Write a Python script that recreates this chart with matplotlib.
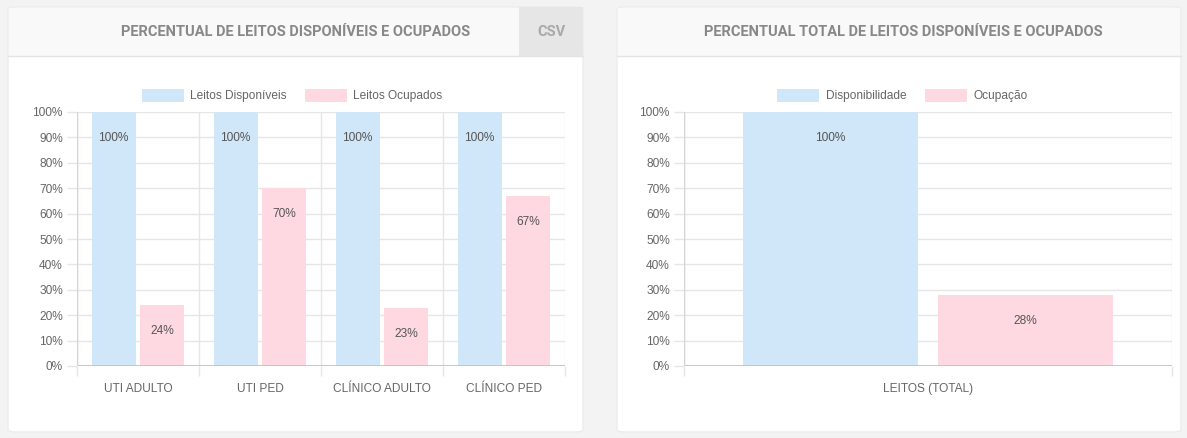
import matplotlib.pyplot as plt
from matplotlib.patches import FancyBboxPatch, Rectangle
from matplotlib.lines import Line2D

W, H = 1187, 438

# data
cats_left = ["UTI ADULTO", "UTI PED", "CLÍNICO ADULTO", "CLÍNICO PED"]
disponiveis = [100, 100, 100, 100]
ocupados = [24, 70, 23, 67]
cats_right = ["LEITOS (TOTAL)"]
disponibilidade = [100]
ocupacao = [28]

blue = "#d0e7f9"
pink = "#ffd9e1"
grid = "#e6e6e6"
tick_col = "#666666"

plt.rcParams['font.family'] = ['Liberation Sans', 'DejaVu Sans']

fig = plt.figure(figsize=(W / 100, H / 100), dpi=100)
fig.patch.set_facecolor("#f3f3f3")


def fx(x):
    return x / W


def fy(y):
    return 1 - y / H


def card(x0, x1, y0, y1, title, csv=False):
    # card body
    fig.patches.append(FancyBboxPatch((fx(x0), fy(y1)), fx(x1 - x0), (y1 - y0) / H,
                                      boxstyle="round,pad=0,rounding_size=0.006",
                                      transform=fig.transFigure, facecolor="white",
                                      edgecolor="#ececec", lw=1, zorder=0))
    # header
    fig.patches.append(Rectangle((fx(x0 + 1), fy(56)), fx(x1 - x0 - 2), (56 - y0 - 1) / H,
                                 transform=fig.transFigure, facecolor="#faf9f9",
                                 edgecolor="none", zorder=0.5))
    fig.add_artist(Line2D([fx(x0), fx(x1)], [fy(56), fy(56)], color="#e4e4e4", lw=1,
                          transform=fig.transFigure))
    cx = (x0 + x1) / 2 + 4
    if csv:
        fig.patches.append(Rectangle((fx(519), fy(56)), fx(x1 - 519), (56 - y0) / H,
                                     transform=fig.transFigure, facecolor="#e6e6e6",
                                     edgecolor="none", zorder=0.6))
        fig.text(fx(551), fy(32), "CSV", ha="center", va="center", fontsize=10.5,
                 fontweight="bold", color="#a9a9a9", family="Roboto")
        cx = 296
    fig.text(fx(cx), fy(32), title, ha="center", va="center", fontsize=10.5,
             fontweight="bold", color="#888888", family="Roboto")


def legend(items):
    for bx, tx, col, label in items:
        fig.patches.append(Rectangle((fx(bx), fy(102)), fx(42), 13 / H,
                                     transform=fig.transFigure, facecolor=col,
                                     edgecolor="none", zorder=1))
        fig.text(fx(tx), fy(95.5), label, ha="left", va="center", fontsize=8.6,
                 color=tick_col)


def bars(left, right, cats, s1, s2):
    ax = fig.add_axes([fx(left), fy(366), fx(right - left), (366 - 112) / H])
    ax.set_zorder(3)
    ax.set_facecolor("none")
    n = len(cats)
    pos = [i + 0.5 for i in range(n)]
    b1 = ax.bar([p - 0.2 for p in pos], s1, width=0.36, color=blue, zorder=2)
    b2 = ax.bar([p + 0.2 for p in pos], s2, width=0.36, color=pink, zorder=2)
    for bb, vals in ((b1, s1), (b2, s2)):
        for r, v in zip(bb, vals):
            ax.annotate(f"{v}%", (r.get_x() + r.get_width() / 2, v), xytext=(0, -26),
                        textcoords="offset pixels", ha="center", va="center",
                        fontsize=8.6, color="#555555", zorder=3)
    ax.set_xlim(0, n)
    ax.set_ylim(0, 100)
    ax.set_yticks(range(0, 101, 10))
    ax.set_yticklabels([f"{v}%" for v in range(0, 101, 10)])
    ax.set_xticks(pos)
    ax.set_xticklabels(cats)
    ax.set_xticks(range(n + 1), minor=True)
    ax.tick_params(axis="x", which="major", length=0, pad=12, labelsize=8.6,
                   labelcolor=tick_col)
    ax.tick_params(axis="x", which="minor", length=7.2, color=grid, width=1)
    ax.tick_params(axis="y", length=7.2, color=grid, width=1, pad=3, labelsize=8.6,
                   labelcolor=tick_col)
    ax.grid(axis="y", color=grid, lw=1, zorder=1)
    ax.grid(axis="x", which="minor", color=grid, lw=1, zorder=1)
    for s in ax.spines.values():
        s.set_visible(False)
    ax.axhline(0, color="#c2c2c2", lw=1.3, zorder=2.5)
    ax.axvline(0, color="#d4d4d4", lw=1, zorder=2.5)
    return ax


card(8, 583, 7, 432, "PERCENTUAL DE LEITOS DISPONÍVEIS E OCUPADOS", csv=True)
card(617, 1181, 7, 432, "PERCENTUAL TOTAL DE LEITOS DISPONÍVEIS E OCUPADOS")

legend([(142, 190, blue, "Leitos Disponíveis"), (305, 353, pink, "Leitos Ocupados")])
legend([(777, 826, blue, "Disponibilidade"), (925, 973, pink, "Ocupação")])

bars(77, 565, cats_left, disponiveis, ocupados)
bars(684, 1172, cats_right, disponibilidade, ocupacao)

fig.savefig("out.png", dpi=100, facecolor=fig.get_facecolor())
